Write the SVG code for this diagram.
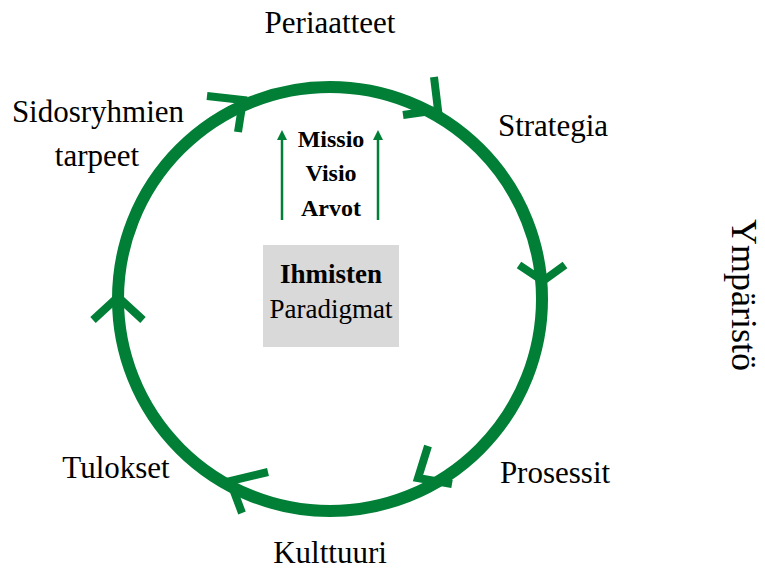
<svg xmlns="http://www.w3.org/2000/svg" width="765" height="572" viewBox="0 0 765 572">
<defs>
<style>
.lbl{font-family:"Liberation Serif","Times New Roman",serif;font-size:31px;fill:#000;text-anchor:middle}
.mv{font-family:"Liberation Serif","Times New Roman",serif;font-size:24px;font-weight:bold;fill:#000;text-anchor:middle}
.ring{fill:none;stroke:#017f36;stroke-width:12}
.chev{fill:none;stroke:#017f36;stroke-width:8;stroke-linejoin:miter}
.up{stroke:#017f36;stroke-width:2.5;fill:none}
</style>
<marker id="ah" viewBox="0 0 10 10" refX="5" refY="5" markerWidth="4" markerHeight="4" orient="auto">
<path d="M0,0 L10,5 L0,10 z" fill="#017f36"/>
</marker>
</defs>
<rect width="765" height="572" fill="#fff"/>
<g id="connectors">
<circle class="ring" cx="330" cy="299" r="212"/>
<polyline class="chev" points="207,96 243,100 238,132"/>
<polyline class="chev" points="434,77 438,110 403,115"/>
<polyline class="chev" points="519,265 543,281 565,265"/>
<polyline class="chev" points="428,446 418,478 452,484"/>
<polyline class="chev" points="268,472 230,481 242,513"/>
<polyline class="chev" points="93,320 118,297 143,320"/>
<line class="up" x1="282" y1="220" x2="282" y2="135" marker-end="url(#ah)"/>
<line class="up" x1="378" y1="220" x2="378" y2="135" marker-end="url(#ah)"/>
</g>
<g id="periaatteet"><text class="lbl" x="330" y="33">Periaatteet</text></g>
<g id="strategia"><text class="lbl" x="553" y="136">Strategia</text></g>
<g id="sidosryhmien"><text class="lbl" x="98" y="122">Sidosryhmien</text><text class="lbl" x="97" y="166">tarpeet</text></g>
<g id="prosessit"><text class="lbl" x="555" y="483">Prosessit</text></g>
<g id="tulokset"><text class="lbl" x="116" y="478">Tulokset</text></g>
<g id="kulttuuri"><text class="lbl" x="330" y="563">Kulttuuri</text></g>
<g id="ymparisto"><text class="lbl" style="font-size:36px" transform="translate(732,295) rotate(90)" x="0" y="0">Ympäristö</text></g>
<g id="mvv">
<text class="mv" x="331" y="147">Missio</text>
<text class="mv" x="331" y="181">Visio</text>
<text class="mv" x="331" y="216">Arvot</text>
</g>
<g id="ihmisten">
<rect x="263" y="245" width="136" height="102" fill="#d9d9d9"/>
<text class="lbl" style="font-size:27px;font-weight:bold" x="331" y="283">Ihmisten</text>
<text class="lbl" style="font-size:27px" x="331" y="318">Paradigmat</text>
</g>
</svg>
